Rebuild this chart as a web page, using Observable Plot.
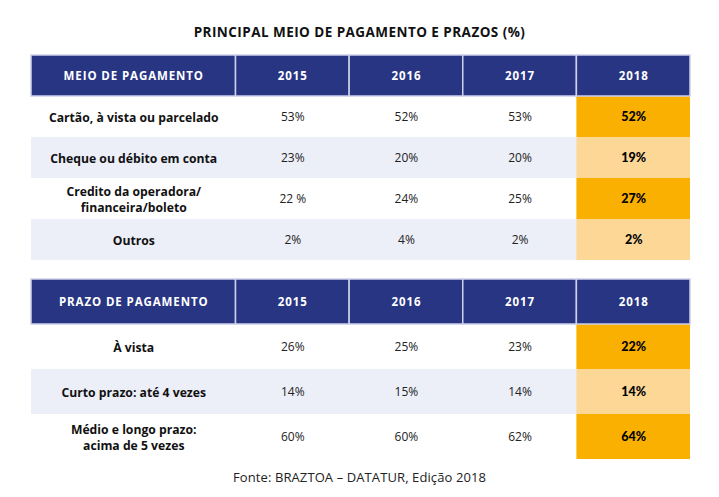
<!DOCTYPE html>
<html><head><meta charset="utf-8">
<script src="https://cdn.jsdelivr.net/npm/d3@7"></script>
<script src="https://cdn.jsdelivr.net/npm/@observablehq/plot@0.6"></script>
<style>
body{margin:0;background:#fff;width:719px;font-family:"Open Sans",sans-serif;color:#111;}
#title{padding-top:24px;height:16px;line-height:16px;margin-bottom:13px;text-align:center;font-weight:700;font-size:13.5px;letter-spacing:0.45px;}
#t1 svg,#t2 svg{display:block;}
#gap{height:17px;}
#cap{margin-top:10px;height:16px;line-height:16px;text-align:center;font-size:13px;color:#222;letter-spacing:0.1px;}
g[fill="#ffffff"] text{letter-spacing:0.9px;}
</style></head><body>
<div id="title">PRINCIPAL MEIO DE PAGAMENTO E PRAZOS (%)</div>
<div id="t1"></div>
<div id="gap"></div>
<div id="t2"></div>
<div id="cap">Fonte: BRAZTOA – DATATUR, Edição 2018</div>
<script>
const years = ["2015", "2016", "2017", "2018"];

const meioHeader = "MEIO DE PAGAMENTO";
const meioRows = ["Cartão, à vista ou parcelado", "Cheque ou débito em conta", "Credito da operadora/\nfinanceira/boleto", "Outros"];
const meio2015 = ["53%", "23%", "22 %", "2%"];
const meio2016 = ["52%", "20%", "24%", "4%"];
const meio2017 = ["53%", "20%", "25%", "2%"];
const meio2018 = ["52%", "19%", "27%", "2%"];

const prazoHeader = "PRAZO DE PAGAMENTO";
const prazoRows = ["À vista", "Curto prazo: até 4 vezes", "Médio e longo prazo:\nacima de 5 vezes"];
const prazo2015 = ["26%", "14%", "60%"];
const prazo2016 = ["25%", "15%", "60%"];
const prazo2017 = ["23%", "14%", "62%"];
const prazo2018 = ["22%", "14%", "64%"];

const LABEL_W = 1.8;
const TOTAL = LABEL_W + years.length;
const colStart = c => c === 0 ? 0 : LABEL_W + (c - 1);
const colEnd = c => c === 0 ? LABEL_W : LABEL_W + c;
const colMid = c => (colStart(c) + colEnd(c)) / 2;
const HKEY = "__header";
const FONT = "Open Sans";

function table(header, rows, cols, height) {
  const last = years.length;
  const rowData = rows.map((r, i) => ({r, i}));
  const headCells = [{c: 0, t: header}, ...years.map((y, j) => ({c: j + 1, t: y}))];
  const labels = rows.map((r, i) => ({r, i, t: r}));
  const vals = rows.flatMap((r, i) => cols.map((col, j) => ({r, i, c: j + 1, t: col[i]})));
  return Plot.plot({
    width: 719,
    height,
    marginLeft: 31,
    marginRight: 29,
    marginTop: 0,
    marginBottom: 0,
    x: {domain: [0, TOTAL], axis: null},
    y: {domain: [HKEY, ...rows], axis: null, padding: 0},
    color: {type: "identity"},
    marks: [
      Plot.barX(rowData, {x1: () => 0, x2: () => TOTAL, y: "r", fill: d => d.i % 2 ? "#eceef8" : "#ffffff"}),
      Plot.barX(rowData, {x1: () => colStart(last), x2: () => colEnd(last), y: "r", fill: d => d.i % 2 ? "#fdd796" : "#f9b000"}),
      Plot.barX(headCells, {x1: d => colStart(d.c), x2: d => colEnd(d.c), y: () => HKEY, fill: "#283583", stroke: "#cdd1ea", strokeWidth: 1.5}),
      Plot.text(headCells, {x: d => colMid(d.c), y: () => HKEY, text: "t", fill: "#ffffff", fontWeight: 700, fontSize: 11.5, fontFamily: FONT}),
      Plot.text(labels, {x: () => colMid(0), y: "r", text: "t", fill: "#111111", fontWeight: 700, fontSize: 12.2, fontFamily: FONT, lineHeight: 1.33}),
      Plot.text(vals.filter(d => d.c !== last), {x: d => colMid(d.c), y: "r", text: "t", fill: "#222222", fontWeight: 400, fontSize: 12, fontFamily: FONT}),
      Plot.text(vals.filter(d => d.c === last), {x: d => colMid(d.c), y: "r", text: "t", fill: "#000000", fontWeight: 900, fontSize: 12.5, fontFamily: "Lato"})
    ]
  });
}

document.getElementById("t1").append(table(meioHeader, meioRows, [meio2015, meio2016, meio2017, meio2018], 208));
document.getElementById("t2").append(table(prazoHeader, prazoRows, [prazo2015, prazo2016, prazo2017, prazo2018], 181));
</script>
</body></html>
